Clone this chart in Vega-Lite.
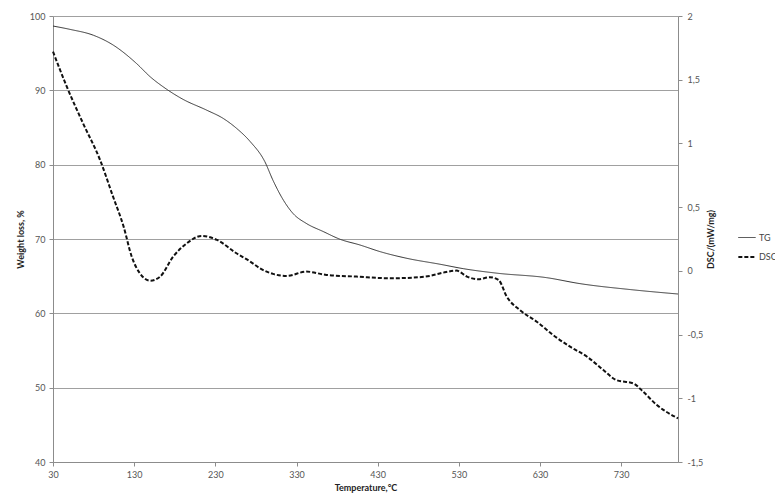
{
  "$schema": "https://vega.github.io/schema/vega-lite/v6.json",
  "autosize": "none",
  "width": 625,
  "height": 446,
  "padding": {"left": 53, "top": 16, "right": 97, "bottom": 35},
  "background": "white",
  "config": {
    "view": {"stroke": null},
    "font": "Lato",
    "axis": {"labelFont": "Lato", "labelFontSize": 9, "labelColor": "#555555", "titleFont": "Lato", "titleFontSize": 9, "titleFontWeight": "bold", "titleColor": "#222222", "domainColor": "#8c8c8c", "tickColor": "#8c8c8c", "tickSize": 4, "gridColor": "#a0a0a0", "gridWidth": 1}
  },
  "datasets": {
    "tg": [
      {"series": "TG", "temp": 30, "value": 98.65},
      {"series": "TG", "temp": 51, "value": 98.2},
      {"series": "TG", "temp": 80, "value": 97.4},
      {"series": "TG", "temp": 104, "value": 96.1},
      {"series": "TG", "temp": 133, "value": 93.6},
      {"series": "TG", "temp": 150, "value": 91.8},
      {"series": "TG", "temp": 168, "value": 90.3},
      {"series": "TG", "temp": 190, "value": 88.8},
      {"series": "TG", "temp": 219, "value": 87.35},
      {"series": "TG", "temp": 240, "value": 86.2},
      {"series": "TG", "temp": 256, "value": 84.9},
      {"series": "TG", "temp": 273, "value": 83.1},
      {"series": "TG", "temp": 291, "value": 80.4},
      {"series": "TG", "temp": 301, "value": 77.9},
      {"series": "TG", "temp": 314, "value": 75.2},
      {"series": "TG", "temp": 326, "value": 73.4},
      {"series": "TG", "temp": 342, "value": 72.1},
      {"series": "TG", "temp": 363, "value": 71.0},
      {"series": "TG", "temp": 384, "value": 69.95},
      {"series": "TG", "temp": 408, "value": 69.2},
      {"series": "TG", "temp": 433, "value": 68.3},
      {"series": "TG", "temp": 466, "value": 67.4},
      {"series": "TG", "temp": 507, "value": 66.6},
      {"series": "TG", "temp": 536, "value": 66.0},
      {"series": "TG", "temp": 577, "value": 65.4},
      {"series": "TG", "temp": 638, "value": 64.8},
      {"series": "TG", "temp": 679, "value": 64.0},
      {"series": "TG", "temp": 741, "value": 63.2},
      {"series": "TG", "temp": 800, "value": 62.6}
    ],
    "dsc": [
      {"series": "DSC", "temp": 30, "value": 1.72},
      {"series": "DSC", "temp": 47, "value": 1.445},
      {"series": "DSC", "temp": 67, "value": 1.158},
      {"series": "DSC", "temp": 88, "value": 0.87},
      {"series": "DSC", "temp": 104, "value": 0.582},
      {"series": "DSC", "temp": 117, "value": 0.347},
      {"series": "DSC", "temp": 127, "value": 0.111},
      {"series": "DSC", "temp": 137, "value": -0.019},
      {"series": "DSC", "temp": 150, "value": -0.077},
      {"series": "DSC", "temp": 162, "value": -0.045},
      {"series": "DSC", "temp": 178, "value": 0.111},
      {"series": "DSC", "temp": 195, "value": 0.217},
      {"series": "DSC", "temp": 213, "value": 0.274},
      {"series": "DSC", "temp": 232, "value": 0.243},
      {"series": "DSC", "temp": 256, "value": 0.138},
      {"series": "DSC", "temp": 273, "value": 0.073},
      {"series": "DSC", "temp": 285, "value": 0.02},
      {"series": "DSC", "temp": 301, "value": -0.024},
      {"series": "DSC", "temp": 318, "value": -0.04},
      {"series": "DSC", "temp": 342, "value": -0.006},
      {"series": "DSC", "temp": 367, "value": -0.032},
      {"series": "DSC", "temp": 404, "value": -0.045},
      {"series": "DSC", "temp": 445, "value": -0.058},
      {"series": "DSC", "temp": 474, "value": -0.053},
      {"series": "DSC", "temp": 494, "value": -0.04},
      {"series": "DSC", "temp": 511, "value": -0.014},
      {"series": "DSC", "temp": 527, "value": 0.002},
      {"series": "DSC", "temp": 540, "value": -0.045},
      {"series": "DSC", "temp": 554, "value": -0.066},
      {"series": "DSC", "temp": 568, "value": -0.05},
      {"series": "DSC", "temp": 579, "value": -0.072},
      {"series": "DSC", "temp": 589, "value": -0.202},
      {"series": "DSC", "temp": 605, "value": -0.307},
      {"series": "DSC", "temp": 626, "value": -0.399},
      {"series": "DSC", "temp": 646, "value": -0.503},
      {"series": "DSC", "temp": 667, "value": -0.595},
      {"series": "DSC", "temp": 688, "value": -0.674},
      {"series": "DSC", "temp": 708, "value": -0.778},
      {"series": "DSC", "temp": 724, "value": -0.857},
      {"series": "DSC", "temp": 745, "value": -0.883},
      {"series": "DSC", "temp": 757, "value": -0.948},
      {"series": "DSC", "temp": 774, "value": -1.053},
      {"series": "DSC", "temp": 800, "value": -1.157}
    ]
  },
  "encoding": {
    "x": {"field": "temp", "type": "quantitative", "scale": {"domain": [30, 800], "nice": false, "zero": false},
      "axis": {"title": "Temperature,°C", "values": [30, 130, 230, 330, 430, 530, 630, 730], "grid": false, "labelPadding": 4, "titlePadding": 4, "labelFlush": false}}
  },
  "layer": [
    {
      "data": {"name": "tg"},
      "mark": {"type": "line", "interpolate": "monotone"},
      "encoding": {
        "y": {"field": "value", "type": "quantitative", "scale": {"domain": [40, 100], "nice": false, "zero": false},
          "axis": {"title": "Weight loss, %", "values": [40, 50, 60, 70, 80, 90, 100], "grid": true, "labelPadding": 4, "titlePadding": 4}},
        "color": {"field": "series", "type": "nominal", "scale": {"domain": ["TG", "DSC"], "range": ["#333333", "#111111"]}},
        "strokeDash": {"field": "series", "type": "nominal", "scale": {"domain": ["TG", "DSC"], "range": [[1, 0], [4, 2]]}},
        "strokeWidth": {"field": "series", "type": "nominal", "scale": {"domain": ["TG", "DSC"], "range": [1, 2]},
          "legend": {"title": null, "orient": "none", "legendX": 684, "legendY": 212, "symbolType": "stroke", "symbolSize": 300, "labelFont": "Lato", "labelFontSize": 9, "labelColor": "#444444", "rowPadding": 4, "padding": 0, "labelOffset": 2}}
      }
    },
    {
      "data": {"name": "dsc"},
      "mark": {"type": "line", "interpolate": "monotone"},
      "encoding": {
        "y": {"field": "value", "type": "quantitative", "scale": {"domain": [-1.5, 2], "nice": false, "zero": false},
          "axis": {"orient": "right", "title": "DSC/(mW/mg)", "titleAngle": 270, "values": [-1.5, -1, -0.5, 0, 0.5, 1, 1.5, 2], "grid": false, "labelPadding": 5, "titlePadding": 13, "labelExpr": "replace(datum.value + '', '.', ',')"}},
        "color": {"field": "series", "type": "nominal", "scale": {"domain": ["TG", "DSC"], "range": ["#333333", "#111111"]}},
        "strokeDash": {"field": "series", "type": "nominal", "scale": {"domain": ["TG", "DSC"], "range": [[1, 0], [4, 2]]}},
        "strokeWidth": {"field": "series", "type": "nominal", "scale": {"domain": ["TG", "DSC"], "range": [1, 2]}}
      }
    }
  ],
  "resolve": {"scale": {"y": "independent"}}
}
